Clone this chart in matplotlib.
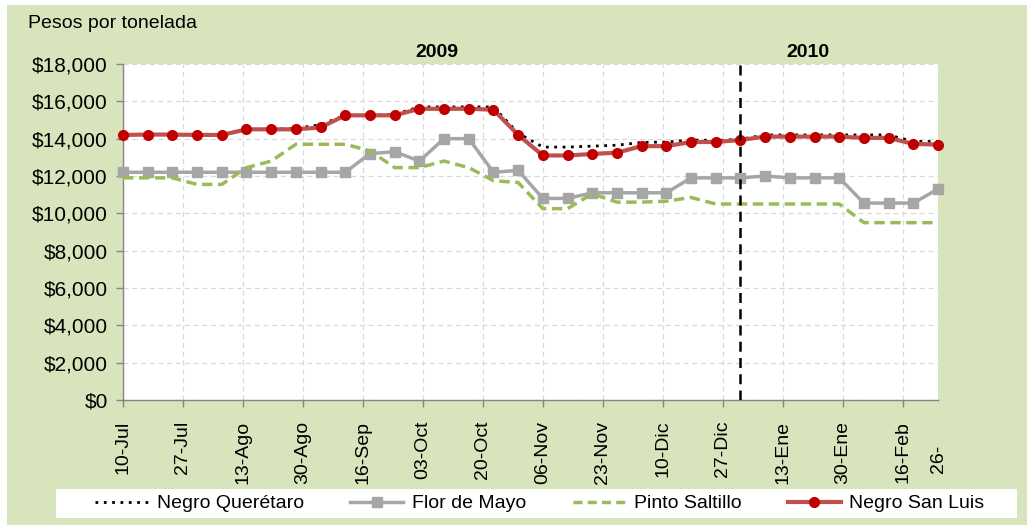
import matplotlib
matplotlib.use("Agg")
import matplotlib.pyplot as plt
import matplotlib.transforms as mtransforms
from matplotlib.patches import Rectangle
from matplotlib.lines import Line2D
from matplotlib.ticker import FuncFormatter
import pandas as pd

plt.rcParams['font.family'] = ['Liberation Sans', 'DejaVu Sans']

# ---------------- data ----------------
first_date = "2009-07-10"
n_weeks = 34
dates = pd.date_range(first_date, periods=n_weeks, freq="7D")

negro_queretaro = [14200, 14220, 14220, 14200, 14200, 14500, 14500, 14550, 14750, 15250,
                   15250, 15300, 15700, 15700, 15700, 15700, 14300, 13550, 13550, 13600,
                   13650, 13800, 13820, 13930, 13900, 13970, 14200, 14200, 14200, 14200,
                   14200, 14200, 13850, 13850]
flor_de_mayo = [12200, 12200, 12200, 12200, 12200, 12200, 12200, 12200, 12200, 12200,
                13200, 13300, 12800, 14000, 14000, 12200, 12300, 10800, 10800, 11100,
                11100, 11100, 11100, 11900, 11900, 11900, 12000, 11900, 11900, 11900,
                10550, 10550, 10550, 11300]
pinto_saltillo = [11900, 11900, 11900, 11550, 11550, 12450, 12800, 13700, 13700, 13700,
                  13350, 12450, 12450, 12800, 12450, 11750, 11650, 10250, 10250, 11050,
                  10600, 10600, 10650, 10850, 10500, 10500, 10500, 10500, 10500, 10500,
                  9500, 9500, 9500, 9500]
negro_san_luis = [14200, 14220, 14220, 14200, 14200, 14500, 14500, 14500, 14600, 15250,
                  15250, 15250, 15600, 15600, 15600, 15550, 14200, 13100, 13100, 13180,
                  13250, 13600, 13600, 13820, 13820, 13930, 14110, 14110, 14110, 14110,
                  14040, 14040, 13720, 13680]

series_names = ["Negro Querétaro", "Flor de Mayo", "Pinto Saltillo", "Negro San Luis"]

tick_dates = pd.date_range(first_date, periods=14, freq="17D")
tick_labels = ["10-Jul", "27-Jul", "13-Ago", "30-Ago", "16-Sep", "03-Oct", "20-Oct",
               "06-Nov", "23-Nov", "10-Dic", "27-Dic", "13-Ene", "30-Ene", "16-Feb"]
end_label = "26-"

year_divider = pd.Timestamp("2010-01-01")
year_labels = ["2009", "2010"]
year_label_dates = [pd.Timestamp("2009-10-07"), pd.Timestamp("2010-01-20")]

y_max = 18000
y_step = 2000
y_title = "Pesos por tonelada"

# ---------------- figure ----------------
W, H = 1027, 525
fig = plt.figure(figsize=(W / 100, H / 100), dpi=100)
fig.patch.set_facecolor("white")
green = "#D8E4BC"
fig.patches.append(Rectangle((7 / W, 0), 1 - 7 / W, 1 - 5 / H, transform=fig.transFigure,
                             facecolor=green, edgecolor="none", zorder=-2))
fig.patches.append(Rectangle((56 / W, 1 - 518 / H), (1017 - 56) / W, 29 / H,
                             transform=fig.transFigure, facecolor="white",
                             edgecolor="none", zorder=-1))

ax = fig.add_axes([123 / W, 1 - 400 / H, (938 - 123) / W, (400 - 64) / H])
ax.set_facecolor("white")

fs = 14
ax.plot(dates, negro_queretaro, color="black", lw=2.0, dashes=(1, 2),
        label=series_names[0], clip_on=False, zorder=3)
ax.plot(dates, flor_de_mayo, color="#A6A6A6", lw=2.5, marker="s", markersize=7,
        markerfacecolor="#A6A6A6", markeredgecolor="#A6A6A6",
        label=series_names[1], clip_on=False, zorder=3)
ax.plot(dates, pinto_saltillo, color="#9BBB59", lw=2.5, dashes=(3, 1.6),
        label=series_names[2], clip_on=False, zorder=3)
ax.plot(dates, negro_san_luis, color="#C0504D", lw=3.0, marker="o", markersize=7,
        markerfacecolor="#C00000", markeredgecolor="#C00000",
        label=series_names[3], clip_on=False, zorder=4)

ax.axvline(year_divider, color="black", lw=1.8, dashes=(4, 2.5), zorder=5)

ax.set_xlim(dates[0], dates[-1])
ax.set_ylim(0, y_max)
ax.set_yticks(range(0, y_max + 1, y_step))
ax.yaxis.set_major_formatter(FuncFormatter(lambda v, p: f"${v:,.0f}"))

ax.set_xticks(tick_dates)
ax.set_xticklabels(tick_labels, rotation=90, fontsize=fs)
ax.set_xticks([dates[-1]], minor=True)
ax.set_xticklabels([end_label], minor=True, rotation=90, fontsize=fs)
ax.tick_params(axis="x", which="major", length=5, width=1, color="#868686", pad=10)
ax.tick_params(axis="x", which="minor", length=0, pad=32)
ax.tick_params(axis="y", length=5, width=1, color="#868686", pad=6, labelsize=15)

ax.grid(True, which="major", color="#D9D9D9", lw=0.9, dashes=(4, 3))
ax.set_axisbelow(True)
for s in ["top", "right"]:
    ax.spines[s].set_visible(False)
for s in ["left", "bottom"]:
    ax.spines[s].set_color("#868686")
    ax.spines[s].set_linewidth(1)

trans = mtransforms.blended_transform_factory(ax.transData, ax.transAxes)
for lab, d in zip(year_labels, year_label_dates):
    ax.text(d, 1.008, lab, transform=trans, ha="center", va="bottom",
            fontsize=fs, fontweight="bold")

fig.text(28 / W, 1 - 24 / H, y_title, ha="left", va="center", fontsize=fs)

handles = [
    Line2D([], [], color="black", lw=2.0, dashes=(1, 2)),
    Line2D([], [], color="#A6A6A6", lw=2.5, marker="s", markersize=7),
    Line2D([], [], color="#9BBB59", lw=2.5, dashes=(2.6, 1.5)),
    Line2D([], [], color="#C0504D", lw=3.0, marker="o", markersize=7,
           markerfacecolor="#C00000", markeredgecolor="#C00000"),
]
fig.legend(handles, series_names, loc="center", bbox_to_anchor=(540 / W, 1 - 503.5 / H),
           ncol=4, frameon=False, fontsize=fs, handlelength=2.7, handletextpad=0.45,
           columnspacing=2.4, numpoints=1, borderpad=0)

fig.savefig("out.png", dpi=100, facecolor=fig.get_facecolor())
